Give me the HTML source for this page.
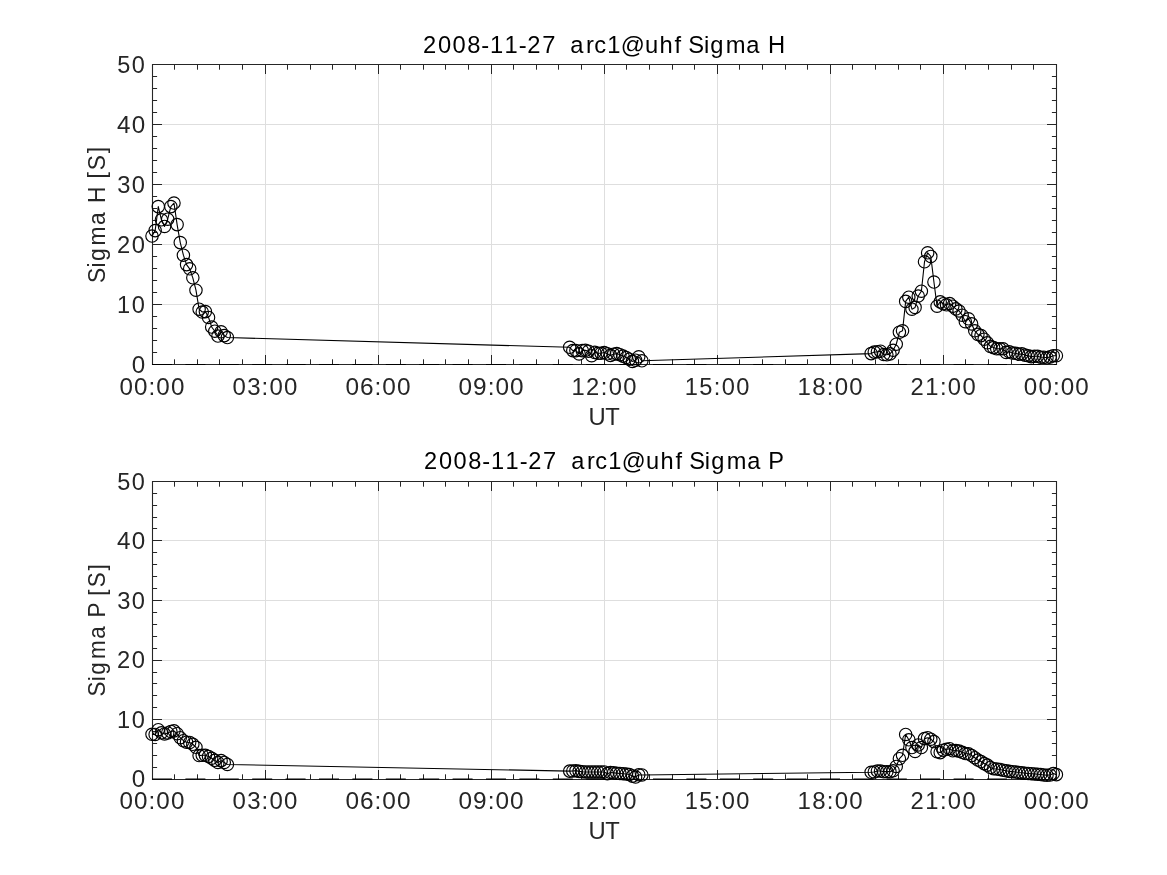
<!DOCTYPE html>
<html lang="en"><head><meta charset="utf-8"><title>arc1@uhf Sigma H / Sigma P 2008-11-27</title>
<style>html,body{margin:0;padding:0;background:#fff;overflow:hidden}svg{display:block;will-change:transform}text{font-family:"Liberation Sans",sans-serif;font-size:23.3px;white-space:pre;font-kerning:none}</style>
</head><body>
<svg width="1167" height="875" viewBox="0 0 1167 875">
<rect width="1167" height="875" fill="#fff"/>
<g id="sigmaH">
<path d="M265.5 64.5V364.5M378.5 64.5V364.5M491.5 64.5V364.5M604.5 64.5V364.5M717.5 64.5V364.5M830.5 64.5V364.5M943.5 64.5V364.5M152.5 304.5H1056.5M152.5 244.5H1056.5M152.5 184.5H1056.5M152.5 124.5H1056.5" stroke="#dedede" stroke-width="1" fill="none"/>
<path d="M174.5 364.5v-5.2M174.5 64.5v5.2M197.5 364.5v-5.2M197.5 64.5v5.2M219.5 364.5v-5.2M219.5 64.5v5.2M242.5 364.5v-5.2M242.5 64.5v5.2M265.5 364.5v-9.5M265.5 64.5v9.5M287.5 364.5v-5.2M287.5 64.5v5.2M310.5 364.5v-5.2M310.5 64.5v5.2M332.5 364.5v-5.2M332.5 64.5v5.2M355.5 364.5v-5.2M355.5 64.5v5.2M378.5 364.5v-9.5M378.5 64.5v9.5M400.5 364.5v-5.2M400.5 64.5v5.2M423.5 364.5v-5.2M423.5 64.5v5.2M445.5 364.5v-5.2M445.5 64.5v5.2M468.5 364.5v-5.2M468.5 64.5v5.2M491.5 364.5v-9.5M491.5 64.5v9.5M513.5 364.5v-5.2M513.5 64.5v5.2M536.5 364.5v-5.2M536.5 64.5v5.2M558.5 364.5v-5.2M558.5 64.5v5.2M581.5 364.5v-5.2M581.5 64.5v5.2M604.5 364.5v-9.5M604.5 64.5v9.5M626.5 364.5v-5.2M626.5 64.5v5.2M649.5 364.5v-5.2M649.5 64.5v5.2M672.5 364.5v-5.2M672.5 64.5v5.2M694.5 364.5v-5.2M694.5 64.5v5.2M717.5 364.5v-9.5M717.5 64.5v9.5M739.5 364.5v-5.2M739.5 64.5v5.2M762.5 364.5v-5.2M762.5 64.5v5.2M785.5 364.5v-5.2M785.5 64.5v5.2M807.5 364.5v-5.2M807.5 64.5v5.2M830.5 364.5v-9.5M830.5 64.5v9.5M852.5 364.5v-5.2M852.5 64.5v5.2M875.5 364.5v-5.2M875.5 64.5v5.2M898.5 364.5v-5.2M898.5 64.5v5.2M920.5 364.5v-5.2M920.5 64.5v5.2M943.5 364.5v-9.5M943.5 64.5v9.5M965.5 364.5v-5.2M965.5 64.5v5.2M988.5 364.5v-5.2M988.5 64.5v5.2M1011.5 364.5v-5.2M1011.5 64.5v5.2M1033.5 364.5v-5.2M1033.5 64.5v5.2M152.5 352.5h4.6M1056.5 352.5h-4.6M152.5 340.5h4.6M1056.5 340.5h-4.6M152.5 328.5h4.6M1056.5 328.5h-4.6M152.5 316.5h4.6M1056.5 316.5h-4.6M152.5 304.5h9.5M1056.5 304.5h-9.5M152.5 292.5h4.6M1056.5 292.5h-4.6M152.5 280.5h4.6M1056.5 280.5h-4.6M152.5 268.5h4.6M1056.5 268.5h-4.6M152.5 256.5h4.6M1056.5 256.5h-4.6M152.5 244.5h9.5M1056.5 244.5h-9.5M152.5 232.5h4.6M1056.5 232.5h-4.6M152.5 220.5h4.6M1056.5 220.5h-4.6M152.5 208.5h4.6M1056.5 208.5h-4.6M152.5 196.5h4.6M1056.5 196.5h-4.6M152.5 184.5h9.5M1056.5 184.5h-9.5M152.5 172.5h4.6M1056.5 172.5h-4.6M152.5 160.5h4.6M1056.5 160.5h-4.6M152.5 148.5h4.6M1056.5 148.5h-4.6M152.5 136.5h4.6M1056.5 136.5h-4.6M152.5 124.5h9.5M1056.5 124.5h-9.5M152.5 112.5h4.6M1056.5 112.5h-4.6M152.5 100.5h4.6M1056.5 100.5h-4.6M152.5 88.5h4.6M1056.5 88.5h-4.6M152.5 76.5h4.6M1056.5 76.5h-4.6" stroke="#262626" stroke-width="1" fill="none"/>
<path d="M152.5 64.5H1056.5V364.5H152.5Z" stroke="#262626" stroke-width="1.1" fill="none" stroke-linejoin="miter"/>
<path d="M152.00 364.55H1056.40" stroke="#000" stroke-width="1.1" stroke-dasharray="20 13.4" fill="none"/>
<path d="M152.00 236.00L155.14 230.60L158.28 206.60L161.42 219.80L164.56 226.40L167.70 219.20L170.84 206.60L173.98 203.00L177.12 224.60L180.26 242.60L183.40 255.20L186.54 264.62L189.68 268.82L192.82 277.82L195.96 290.18L199.10 309.20L202.24 312.02L205.38 311.60L208.53 317.42L211.67 327.02L214.81 331.22L217.95 336.02L221.09 331.82L224.23 335.60L227.37 337.52L569.66 347.30L572.80 350.60L575.94 350.60L579.08 353.90L582.22 350.60L585.36 350.30L588.50 351.20L591.64 355.70L594.78 352.40L597.92 353.30L601.06 353.30L604.20 352.58L607.34 353.78L610.48 355.40L613.62 354.20L616.76 353.60L619.90 354.68L623.04 356.12L626.18 357.50L629.32 359.18L632.46 361.40L635.60 360.20L638.74 356.78L641.88 360.80L871.12 353.60L874.26 352.10L877.40 351.80L880.54 351.20L883.68 354.50L886.83 354.80L889.97 353.90L893.11 350.30L896.25 344.24L899.39 332.24L902.53 330.80L905.67 301.40L908.81 297.20L911.95 309.20L915.09 307.40L918.23 296.00L921.37 291.20L924.51 261.80L927.65 252.80L930.79 256.40L933.93 282.02L937.07 306.20L940.21 301.88L943.35 303.68L946.49 304.82L949.63 303.50L952.77 306.20L955.91 308.90L959.05 311.00L962.19 315.20L965.33 321.68L968.47 318.80L971.61 323.90L974.75 330.80L977.89 334.40L981.03 335.60L984.17 339.20L987.31 342.80L990.45 346.40L993.59 347.60L996.73 348.80L999.88 348.80L1003.02 348.80L1006.16 352.40L1009.30 351.80L1012.44 353.00L1015.58 353.30L1018.72 354.20L1021.86 353.90L1025.00 355.10L1028.14 355.70L1031.28 356.60L1034.42 356.30L1037.56 356.30L1040.70 357.20L1043.84 357.20L1046.98 357.80L1050.12 356.90L1053.26 355.70L1056.40 355.70" stroke="#000" stroke-width="1.1" fill="none" stroke-linejoin="round"/>
<g stroke="#000" stroke-width="1.15" fill="none">
<circle cx="152.00" cy="236.00" r="6.2"/>
<circle cx="155.14" cy="230.60" r="6.2"/>
<circle cx="158.28" cy="206.60" r="6.2"/>
<circle cx="161.42" cy="219.80" r="6.2"/>
<circle cx="164.56" cy="226.40" r="6.2"/>
<circle cx="167.70" cy="219.20" r="6.2"/>
<circle cx="170.84" cy="206.60" r="6.2"/>
<circle cx="173.98" cy="203.00" r="6.2"/>
<circle cx="177.12" cy="224.60" r="6.2"/>
<circle cx="180.26" cy="242.60" r="6.2"/>
<circle cx="183.40" cy="255.20" r="6.2"/>
<circle cx="186.54" cy="264.62" r="6.2"/>
<circle cx="189.68" cy="268.82" r="6.2"/>
<circle cx="192.82" cy="277.82" r="6.2"/>
<circle cx="195.96" cy="290.18" r="6.2"/>
<circle cx="199.10" cy="309.20" r="6.2"/>
<circle cx="202.24" cy="312.02" r="6.2"/>
<circle cx="205.38" cy="311.60" r="6.2"/>
<circle cx="208.53" cy="317.42" r="6.2"/>
<circle cx="211.67" cy="327.02" r="6.2"/>
<circle cx="214.81" cy="331.22" r="6.2"/>
<circle cx="217.95" cy="336.02" r="6.2"/>
<circle cx="221.09" cy="331.82" r="6.2"/>
<circle cx="224.23" cy="335.60" r="6.2"/>
<circle cx="227.37" cy="337.52" r="6.2"/>
<circle cx="569.66" cy="347.30" r="6.2"/>
<circle cx="572.80" cy="350.60" r="6.2"/>
<circle cx="575.94" cy="350.60" r="6.2"/>
<circle cx="579.08" cy="353.90" r="6.2"/>
<circle cx="582.22" cy="350.60" r="6.2"/>
<circle cx="585.36" cy="350.30" r="6.2"/>
<circle cx="588.50" cy="351.20" r="6.2"/>
<circle cx="591.64" cy="355.70" r="6.2"/>
<circle cx="594.78" cy="352.40" r="6.2"/>
<circle cx="597.92" cy="353.30" r="6.2"/>
<circle cx="601.06" cy="353.30" r="6.2"/>
<circle cx="604.20" cy="352.58" r="6.2"/>
<circle cx="607.34" cy="353.78" r="6.2"/>
<circle cx="610.48" cy="355.40" r="6.2"/>
<circle cx="613.62" cy="354.20" r="6.2"/>
<circle cx="616.76" cy="353.60" r="6.2"/>
<circle cx="619.90" cy="354.68" r="6.2"/>
<circle cx="623.04" cy="356.12" r="6.2"/>
<circle cx="626.18" cy="357.50" r="6.2"/>
<circle cx="629.32" cy="359.18" r="6.2"/>
<circle cx="632.46" cy="361.40" r="6.2"/>
<circle cx="635.60" cy="360.20" r="6.2"/>
<circle cx="638.74" cy="356.78" r="6.2"/>
<circle cx="641.88" cy="360.80" r="6.2"/>
<circle cx="871.12" cy="353.60" r="6.2"/>
<circle cx="874.26" cy="352.10" r="6.2"/>
<circle cx="877.40" cy="351.80" r="6.2"/>
<circle cx="880.54" cy="351.20" r="6.2"/>
<circle cx="883.68" cy="354.50" r="6.2"/>
<circle cx="886.83" cy="354.80" r="6.2"/>
<circle cx="889.97" cy="353.90" r="6.2"/>
<circle cx="893.11" cy="350.30" r="6.2"/>
<circle cx="896.25" cy="344.24" r="6.2"/>
<circle cx="899.39" cy="332.24" r="6.2"/>
<circle cx="902.53" cy="330.80" r="6.2"/>
<circle cx="905.67" cy="301.40" r="6.2"/>
<circle cx="908.81" cy="297.20" r="6.2"/>
<circle cx="911.95" cy="309.20" r="6.2"/>
<circle cx="915.09" cy="307.40" r="6.2"/>
<circle cx="918.23" cy="296.00" r="6.2"/>
<circle cx="921.37" cy="291.20" r="6.2"/>
<circle cx="924.51" cy="261.80" r="6.2"/>
<circle cx="927.65" cy="252.80" r="6.2"/>
<circle cx="930.79" cy="256.40" r="6.2"/>
<circle cx="933.93" cy="282.02" r="6.2"/>
<circle cx="937.07" cy="306.20" r="6.2"/>
<circle cx="940.21" cy="301.88" r="6.2"/>
<circle cx="943.35" cy="303.68" r="6.2"/>
<circle cx="946.49" cy="304.82" r="6.2"/>
<circle cx="949.63" cy="303.50" r="6.2"/>
<circle cx="952.77" cy="306.20" r="6.2"/>
<circle cx="955.91" cy="308.90" r="6.2"/>
<circle cx="959.05" cy="311.00" r="6.2"/>
<circle cx="962.19" cy="315.20" r="6.2"/>
<circle cx="965.33" cy="321.68" r="6.2"/>
<circle cx="968.47" cy="318.80" r="6.2"/>
<circle cx="971.61" cy="323.90" r="6.2"/>
<circle cx="974.75" cy="330.80" r="6.2"/>
<circle cx="977.89" cy="334.40" r="6.2"/>
<circle cx="981.03" cy="335.60" r="6.2"/>
<circle cx="984.17" cy="339.20" r="6.2"/>
<circle cx="987.31" cy="342.80" r="6.2"/>
<circle cx="990.45" cy="346.40" r="6.2"/>
<circle cx="993.59" cy="347.60" r="6.2"/>
<circle cx="996.73" cy="348.80" r="6.2"/>
<circle cx="999.88" cy="348.80" r="6.2"/>
<circle cx="1003.02" cy="348.80" r="6.2"/>
<circle cx="1006.16" cy="352.40" r="6.2"/>
<circle cx="1009.30" cy="351.80" r="6.2"/>
<circle cx="1012.44" cy="353.00" r="6.2"/>
<circle cx="1015.58" cy="353.30" r="6.2"/>
<circle cx="1018.72" cy="354.20" r="6.2"/>
<circle cx="1021.86" cy="353.90" r="6.2"/>
<circle cx="1025.00" cy="355.10" r="6.2"/>
<circle cx="1028.14" cy="355.70" r="6.2"/>
<circle cx="1031.28" cy="356.60" r="6.2"/>
<circle cx="1034.42" cy="356.30" r="6.2"/>
<circle cx="1037.56" cy="356.30" r="6.2"/>
<circle cx="1040.70" cy="357.20" r="6.2"/>
<circle cx="1043.84" cy="357.20" r="6.2"/>
<circle cx="1046.98" cy="357.80" r="6.2"/>
<circle cx="1050.12" cy="356.90" r="6.2"/>
<circle cx="1053.26" cy="355.70" r="6.2"/>
<circle cx="1056.40" cy="355.70" r="6.2"/>
</g>
<text transform="translate(131.12 372.75) scale(1.0383 1)" x="0.55" y="0" fill="#262626" xml:space="preserve">0</text>
<text transform="translate(116.52 312.75) scale(1.0162 1)" x="0.59 15.07" y="0" fill="#262626" xml:space="preserve">10</text>
<text transform="translate(116.52 252.75) scale(1.0200 1)" x="0.38 14.99" y="0" fill="#262626" xml:space="preserve">20</text>
<text transform="translate(116.52 192.75) scale(1.0178 1)" x="0.72 15.03" y="0" fill="#262626" xml:space="preserve">30</text>
<text transform="translate(116.52 132.75) scale(1.0384 1)" x="0.54 14.61" y="0" fill="#262626" xml:space="preserve">40</text>
<text transform="translate(116.52 72.75) scale(1.0092 1)" x="0.66 15.22" y="0" fill="#262626" xml:space="preserve">50</text>
<text transform="translate(118.83 395.00) scale(1.0396 1)" x="0.54 14.58 28.58 36.07 50.11" y="0" fill="#262626" xml:space="preserve">00:00</text>
<text transform="translate(231.88 395.00) scale(1.0299 1)" x="0.60 14.81 28.88 36.47 50.65" y="0" fill="#262626" xml:space="preserve">03:00</text>
<text transform="translate(344.93 395.00) scale(1.0480 1)" x="0.48 14.41 28.32 35.72 49.66" y="0" fill="#262626" xml:space="preserve">06:00</text>
<text transform="translate(457.98 395.00) scale(1.0475 1)" x="0.48 14.35 28.34 35.74 49.68" y="0" fill="#262626" xml:space="preserve">09:00</text>
<text transform="translate(571.03 395.00) scale(1.0205 1)" x="0.55 14.68 29.17 36.86 51.17" y="0" fill="#262626" xml:space="preserve">12:00</text>
<text transform="translate(684.08 395.00) scale(1.0152 1)" x="0.59 15.00 29.34 37.09 51.47" y="0" fill="#262626" xml:space="preserve">15:00</text>
<text transform="translate(797.13 395.00) scale(1.0320 1)" x="0.47 14.74 28.81 36.38 50.53" y="0" fill="#262626" xml:space="preserve">18:00</text>
<text transform="translate(910.18 395.00) scale(1.0205 1)" x="0.37 14.86 29.17 36.86 51.17" y="0" fill="#262626" xml:space="preserve">21:00</text>
<text transform="translate(1023.23 395.00) scale(1.0396 1)" x="0.54 14.58 28.58 36.07 50.11" y="0" fill="#262626" xml:space="preserve">00:00</text>
<text transform="translate(588.81 424.70) scale(1.0211 1)" x="-0.19 16.21" y="0" fill="#262626" xml:space="preserve">UT</text>
<text transform="translate(422.72 52.60) scale(1.0190 1)" x="0.38 15.01 29.34 43.67 57.50 66.01 80.34 94.29 102.62 117.20 131.24 138.40 144.79 160.21 168.38 181.22 194.47 218.12 232.46 247.08 254.33 260.65 276.00 282.23 297.33 317.52 332.08 338.95" y="0" fill="#000" xml:space="preserve">2008-11-27  arc1@uhf Sigma H</text>
<text transform="translate(104.90 282.71) rotate(-90) scale(0.9787 1)" x="-0.20 15.56 22.21 38.06 58.97 73.98 81.34 99.07 106.50 114.98 132.27" y="0" fill="#262626" xml:space="preserve">Sigma H [S]</text>
</g>
<g id="sigmaP">
<path d="M265.5 481.5V779.5M378.5 481.5V779.5M491.5 481.5V779.5M604.5 481.5V779.5M717.5 481.5V779.5M830.5 481.5V779.5M943.5 481.5V779.5M152.5 719.5H1056.5M152.5 660.5H1056.5M152.5 600.5H1056.5M152.5 540.5H1056.5" stroke="#dedede" stroke-width="1" fill="none"/>
<path d="M174.5 779.5v-5.2M174.5 481.5v5.2M197.5 779.5v-5.2M197.5 481.5v5.2M219.5 779.5v-5.2M219.5 481.5v5.2M242.5 779.5v-5.2M242.5 481.5v5.2M265.5 779.5v-9.5M265.5 481.5v9.5M287.5 779.5v-5.2M287.5 481.5v5.2M310.5 779.5v-5.2M310.5 481.5v5.2M332.5 779.5v-5.2M332.5 481.5v5.2M355.5 779.5v-5.2M355.5 481.5v5.2M378.5 779.5v-9.5M378.5 481.5v9.5M400.5 779.5v-5.2M400.5 481.5v5.2M423.5 779.5v-5.2M423.5 481.5v5.2M445.5 779.5v-5.2M445.5 481.5v5.2M468.5 779.5v-5.2M468.5 481.5v5.2M491.5 779.5v-9.5M491.5 481.5v9.5M513.5 779.5v-5.2M513.5 481.5v5.2M536.5 779.5v-5.2M536.5 481.5v5.2M558.5 779.5v-5.2M558.5 481.5v5.2M581.5 779.5v-5.2M581.5 481.5v5.2M604.5 779.5v-9.5M604.5 481.5v9.5M626.5 779.5v-5.2M626.5 481.5v5.2M649.5 779.5v-5.2M649.5 481.5v5.2M672.5 779.5v-5.2M672.5 481.5v5.2M694.5 779.5v-5.2M694.5 481.5v5.2M717.5 779.5v-9.5M717.5 481.5v9.5M739.5 779.5v-5.2M739.5 481.5v5.2M762.5 779.5v-5.2M762.5 481.5v5.2M785.5 779.5v-5.2M785.5 481.5v5.2M807.5 779.5v-5.2M807.5 481.5v5.2M830.5 779.5v-9.5M830.5 481.5v9.5M852.5 779.5v-5.2M852.5 481.5v5.2M875.5 779.5v-5.2M875.5 481.5v5.2M898.5 779.5v-5.2M898.5 481.5v5.2M920.5 779.5v-5.2M920.5 481.5v5.2M943.5 779.5v-9.5M943.5 481.5v9.5M965.5 779.5v-5.2M965.5 481.5v5.2M988.5 779.5v-5.2M988.5 481.5v5.2M1011.5 779.5v-5.2M1011.5 481.5v5.2M1033.5 779.5v-5.2M1033.5 481.5v5.2M152.5 767.5h4.6M1056.5 767.5h-4.6M152.5 755.5h4.6M1056.5 755.5h-4.6M152.5 743.5h4.6M1056.5 743.5h-4.6M152.5 731.5h4.6M1056.5 731.5h-4.6M152.5 719.5h9.5M1056.5 719.5h-9.5M152.5 707.5h4.6M1056.5 707.5h-4.6M152.5 695.5h4.6M1056.5 695.5h-4.6M152.5 683.5h4.6M1056.5 683.5h-4.6M152.5 672.5h4.6M1056.5 672.5h-4.6M152.5 660.5h9.5M1056.5 660.5h-9.5M152.5 648.5h4.6M1056.5 648.5h-4.6M152.5 636.5h4.6M1056.5 636.5h-4.6M152.5 624.5h4.6M1056.5 624.5h-4.6M152.5 612.5h4.6M1056.5 612.5h-4.6M152.5 600.5h9.5M1056.5 600.5h-9.5M152.5 588.5h4.6M1056.5 588.5h-4.6M152.5 576.5h4.6M1056.5 576.5h-4.6M152.5 564.5h4.6M1056.5 564.5h-4.6M152.5 552.5h4.6M1056.5 552.5h-4.6M152.5 540.5h9.5M1056.5 540.5h-9.5M152.5 528.5h4.6M1056.5 528.5h-4.6M152.5 517.5h4.6M1056.5 517.5h-4.6M152.5 505.5h4.6M1056.5 505.5h-4.6M152.5 493.5h4.6M1056.5 493.5h-4.6" stroke="#262626" stroke-width="1" fill="none"/>
<path d="M152.5 481.5H1056.5V779.5H152.5Z" stroke="#262626" stroke-width="1.1" fill="none" stroke-linejoin="miter"/>
<path d="M152.00 779.15H1056.40" stroke="#000" stroke-width="1.1" stroke-dasharray="20 13.4" fill="none"/>
<path d="M152.00 734.33L155.14 734.45L158.28 729.68L161.42 732.78L164.56 733.97L167.70 732.96L170.84 731.47L173.98 730.87L177.12 733.73L180.26 737.72L183.40 740.70L186.54 742.19L189.68 742.48L192.82 744.27L195.96 747.25L199.10 755.58L202.24 755.28L205.38 755.28L208.53 756.47L211.67 758.26L214.81 760.34L217.95 762.43L221.09 760.64L224.23 762.43L227.37 764.45L569.66 771.12L572.80 771.00L575.94 770.65L579.08 771.36L582.22 771.72L585.36 771.96L588.50 771.96L591.64 771.96L594.78 771.96L597.92 771.96L601.06 771.96L604.20 771.96L607.34 773.74L610.48 772.55L613.62 772.85L616.76 773.15L619.90 773.44L623.04 773.74L626.18 774.04L629.32 774.52L632.46 776.12L635.60 777.02L638.74 774.81L641.88 774.99L871.12 772.25L874.26 771.96L877.40 771.06L880.54 771.06L883.68 771.66L886.83 771.66L889.97 771.66L893.11 770.76L896.25 766.42L899.39 758.68L902.53 755.28L905.67 734.45L908.81 739.80L911.95 747.54L915.09 751.41L918.23 744.98L921.37 747.54L924.51 738.61L927.65 737.72L930.79 739.21L933.93 741.59L937.07 751.71L940.21 752.60L943.35 750.22L946.49 749.33L949.63 748.73L952.77 750.82L955.91 750.52L959.05 751.12L962.19 752.31L965.33 753.50L968.47 753.80L971.61 755.58L974.75 757.67L977.89 760.05L981.03 761.54L984.17 763.62L987.31 765.11L990.45 767.49L993.59 768.68L996.73 768.98L999.88 769.45L1003.02 770.17L1006.16 770.76L1009.30 771.36L1012.44 771.66L1015.58 771.96L1018.72 772.43L1021.86 772.79L1025.00 773.15L1028.14 773.44L1031.28 773.74L1034.42 773.92L1037.56 774.22L1040.70 774.52L1043.84 774.93L1046.98 775.17L1050.12 774.93L1053.26 773.44L1056.40 774.63" stroke="#000" stroke-width="1.1" fill="none" stroke-linejoin="round"/>
<g stroke="#000" stroke-width="1.15" fill="none">
<circle cx="152.00" cy="734.33" r="6.2"/>
<circle cx="155.14" cy="734.45" r="6.2"/>
<circle cx="158.28" cy="729.68" r="6.2"/>
<circle cx="161.42" cy="732.78" r="6.2"/>
<circle cx="164.56" cy="733.97" r="6.2"/>
<circle cx="167.70" cy="732.96" r="6.2"/>
<circle cx="170.84" cy="731.47" r="6.2"/>
<circle cx="173.98" cy="730.87" r="6.2"/>
<circle cx="177.12" cy="733.73" r="6.2"/>
<circle cx="180.26" cy="737.72" r="6.2"/>
<circle cx="183.40" cy="740.70" r="6.2"/>
<circle cx="186.54" cy="742.19" r="6.2"/>
<circle cx="189.68" cy="742.48" r="6.2"/>
<circle cx="192.82" cy="744.27" r="6.2"/>
<circle cx="195.96" cy="747.25" r="6.2"/>
<circle cx="199.10" cy="755.58" r="6.2"/>
<circle cx="202.24" cy="755.28" r="6.2"/>
<circle cx="205.38" cy="755.28" r="6.2"/>
<circle cx="208.53" cy="756.47" r="6.2"/>
<circle cx="211.67" cy="758.26" r="6.2"/>
<circle cx="214.81" cy="760.34" r="6.2"/>
<circle cx="217.95" cy="762.43" r="6.2"/>
<circle cx="221.09" cy="760.64" r="6.2"/>
<circle cx="224.23" cy="762.43" r="6.2"/>
<circle cx="227.37" cy="764.45" r="6.2"/>
<circle cx="569.66" cy="771.12" r="6.2"/>
<circle cx="572.80" cy="771.00" r="6.2"/>
<circle cx="575.94" cy="770.65" r="6.2"/>
<circle cx="579.08" cy="771.36" r="6.2"/>
<circle cx="582.22" cy="771.72" r="6.2"/>
<circle cx="585.36" cy="771.96" r="6.2"/>
<circle cx="588.50" cy="771.96" r="6.2"/>
<circle cx="591.64" cy="771.96" r="6.2"/>
<circle cx="594.78" cy="771.96" r="6.2"/>
<circle cx="597.92" cy="771.96" r="6.2"/>
<circle cx="601.06" cy="771.96" r="6.2"/>
<circle cx="604.20" cy="771.96" r="6.2"/>
<circle cx="607.34" cy="773.74" r="6.2"/>
<circle cx="610.48" cy="772.55" r="6.2"/>
<circle cx="613.62" cy="772.85" r="6.2"/>
<circle cx="616.76" cy="773.15" r="6.2"/>
<circle cx="619.90" cy="773.44" r="6.2"/>
<circle cx="623.04" cy="773.74" r="6.2"/>
<circle cx="626.18" cy="774.04" r="6.2"/>
<circle cx="629.32" cy="774.52" r="6.2"/>
<circle cx="632.46" cy="776.12" r="6.2"/>
<circle cx="635.60" cy="777.02" r="6.2"/>
<circle cx="638.74" cy="774.81" r="6.2"/>
<circle cx="641.88" cy="774.99" r="6.2"/>
<circle cx="871.12" cy="772.25" r="6.2"/>
<circle cx="874.26" cy="771.96" r="6.2"/>
<circle cx="877.40" cy="771.06" r="6.2"/>
<circle cx="880.54" cy="771.06" r="6.2"/>
<circle cx="883.68" cy="771.66" r="6.2"/>
<circle cx="886.83" cy="771.66" r="6.2"/>
<circle cx="889.97" cy="771.66" r="6.2"/>
<circle cx="893.11" cy="770.76" r="6.2"/>
<circle cx="896.25" cy="766.42" r="6.2"/>
<circle cx="899.39" cy="758.68" r="6.2"/>
<circle cx="902.53" cy="755.28" r="6.2"/>
<circle cx="905.67" cy="734.45" r="6.2"/>
<circle cx="908.81" cy="739.80" r="6.2"/>
<circle cx="911.95" cy="747.54" r="6.2"/>
<circle cx="915.09" cy="751.41" r="6.2"/>
<circle cx="918.23" cy="744.98" r="6.2"/>
<circle cx="921.37" cy="747.54" r="6.2"/>
<circle cx="924.51" cy="738.61" r="6.2"/>
<circle cx="927.65" cy="737.72" r="6.2"/>
<circle cx="930.79" cy="739.21" r="6.2"/>
<circle cx="933.93" cy="741.59" r="6.2"/>
<circle cx="937.07" cy="751.71" r="6.2"/>
<circle cx="940.21" cy="752.60" r="6.2"/>
<circle cx="943.35" cy="750.22" r="6.2"/>
<circle cx="946.49" cy="749.33" r="6.2"/>
<circle cx="949.63" cy="748.73" r="6.2"/>
<circle cx="952.77" cy="750.82" r="6.2"/>
<circle cx="955.91" cy="750.52" r="6.2"/>
<circle cx="959.05" cy="751.12" r="6.2"/>
<circle cx="962.19" cy="752.31" r="6.2"/>
<circle cx="965.33" cy="753.50" r="6.2"/>
<circle cx="968.47" cy="753.80" r="6.2"/>
<circle cx="971.61" cy="755.58" r="6.2"/>
<circle cx="974.75" cy="757.67" r="6.2"/>
<circle cx="977.89" cy="760.05" r="6.2"/>
<circle cx="981.03" cy="761.54" r="6.2"/>
<circle cx="984.17" cy="763.62" r="6.2"/>
<circle cx="987.31" cy="765.11" r="6.2"/>
<circle cx="990.45" cy="767.49" r="6.2"/>
<circle cx="993.59" cy="768.68" r="6.2"/>
<circle cx="996.73" cy="768.98" r="6.2"/>
<circle cx="999.88" cy="769.45" r="6.2"/>
<circle cx="1003.02" cy="770.17" r="6.2"/>
<circle cx="1006.16" cy="770.76" r="6.2"/>
<circle cx="1009.30" cy="771.36" r="6.2"/>
<circle cx="1012.44" cy="771.66" r="6.2"/>
<circle cx="1015.58" cy="771.96" r="6.2"/>
<circle cx="1018.72" cy="772.43" r="6.2"/>
<circle cx="1021.86" cy="772.79" r="6.2"/>
<circle cx="1025.00" cy="773.15" r="6.2"/>
<circle cx="1028.14" cy="773.44" r="6.2"/>
<circle cx="1031.28" cy="773.74" r="6.2"/>
<circle cx="1034.42" cy="773.92" r="6.2"/>
<circle cx="1037.56" cy="774.22" r="6.2"/>
<circle cx="1040.70" cy="774.52" r="6.2"/>
<circle cx="1043.84" cy="774.93" r="6.2"/>
<circle cx="1046.98" cy="775.17" r="6.2"/>
<circle cx="1050.12" cy="774.93" r="6.2"/>
<circle cx="1053.26" cy="773.44" r="6.2"/>
<circle cx="1056.40" cy="774.63" r="6.2"/>
</g>
<text transform="translate(131.12 787.45) scale(1.0383 1)" x="0.55" y="0" fill="#262626" xml:space="preserve">0</text>
<text transform="translate(116.52 727.91) scale(1.0162 1)" x="0.59 15.07" y="0" fill="#262626" xml:space="preserve">10</text>
<text transform="translate(116.52 668.37) scale(1.0200 1)" x="0.38 14.99" y="0" fill="#262626" xml:space="preserve">20</text>
<text transform="translate(116.52 608.83) scale(1.0178 1)" x="0.72 15.03" y="0" fill="#262626" xml:space="preserve">30</text>
<text transform="translate(116.52 549.29) scale(1.0384 1)" x="0.54 14.61" y="0" fill="#262626" xml:space="preserve">40</text>
<text transform="translate(116.52 489.75) scale(1.0092 1)" x="0.66 15.22" y="0" fill="#262626" xml:space="preserve">50</text>
<text transform="translate(118.83 808.80) scale(1.0396 1)" x="0.54 14.58 28.58 36.07 50.11" y="0" fill="#262626" xml:space="preserve">00:00</text>
<text transform="translate(231.88 808.80) scale(1.0299 1)" x="0.60 14.81 28.88 36.47 50.65" y="0" fill="#262626" xml:space="preserve">03:00</text>
<text transform="translate(344.93 808.80) scale(1.0480 1)" x="0.48 14.41 28.32 35.72 49.66" y="0" fill="#262626" xml:space="preserve">06:00</text>
<text transform="translate(457.98 808.80) scale(1.0475 1)" x="0.48 14.35 28.34 35.74 49.68" y="0" fill="#262626" xml:space="preserve">09:00</text>
<text transform="translate(571.03 808.80) scale(1.0205 1)" x="0.55 14.68 29.17 36.86 51.17" y="0" fill="#262626" xml:space="preserve">12:00</text>
<text transform="translate(684.08 808.80) scale(1.0152 1)" x="0.59 15.00 29.34 37.09 51.47" y="0" fill="#262626" xml:space="preserve">15:00</text>
<text transform="translate(797.13 808.80) scale(1.0320 1)" x="0.47 14.74 28.81 36.38 50.53" y="0" fill="#262626" xml:space="preserve">18:00</text>
<text transform="translate(910.18 808.80) scale(1.0205 1)" x="0.37 14.86 29.17 36.86 51.17" y="0" fill="#262626" xml:space="preserve">21:00</text>
<text transform="translate(1023.23 808.80) scale(1.0396 1)" x="0.54 14.58 28.58 36.07 50.11" y="0" fill="#262626" xml:space="preserve">00:00</text>
<text transform="translate(588.81 839.40) scale(1.0211 1)" x="-0.19 16.21" y="0" fill="#262626" xml:space="preserve">UT</text>
<text transform="translate(423.62 468.70) scale(1.0136 1)" x="0.42 15.12 29.53 43.94 57.83 66.40 80.80 94.81 103.19 117.85 131.95 139.15 145.60 161.08 169.30 182.22 195.56 219.31 233.72 248.40 255.70 262.07 277.47 283.76 298.95 319.24 333.86 340.13" y="0" fill="#000" xml:space="preserve">2008-11-27  arc1@uhf Sigma P</text>
<text transform="translate(104.90 696.51) rotate(-90) scale(0.9636 1)" x="-0.08 15.85 22.65 38.81 60.01 75.19 82.05 97.13 104.68 113.35 130.84" y="0" fill="#262626" xml:space="preserve">Sigma P [S]</text>
</g>
</svg></body></html>
